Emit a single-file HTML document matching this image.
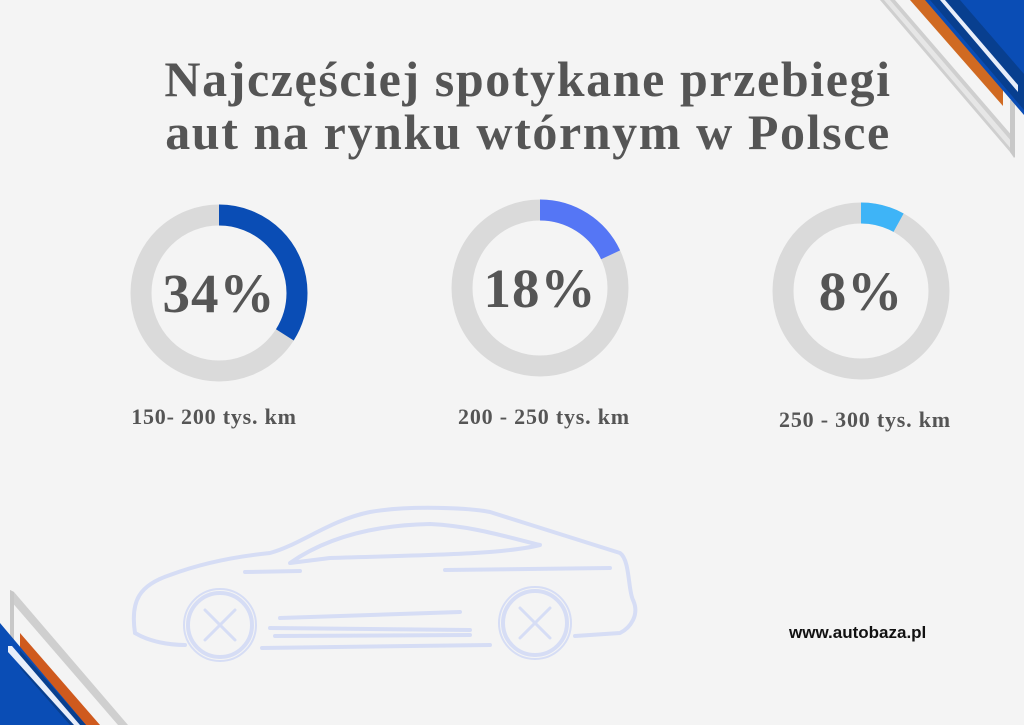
<!DOCTYPE html>
<html><head><meta charset="utf-8"><style>
html,body{margin:0;padding:0;}
body{width:1024px;height:725px;background:#f4f4f4;position:relative;overflow:hidden;font-family:"Liberation Serif",serif;}
.t{position:absolute;left:0;width:1056px;text-align:center;color:#555;font-weight:bold;font-size:50px;letter-spacing:1.6px;}
.lab{position:absolute;color:#555;font-weight:bold;font-size:22px;letter-spacing:0.8px;text-align:center;width:260px;}
.pct{position:absolute;color:#555;font-weight:bold;font-size:55px;letter-spacing:1px;text-align:center;width:200px;}
.url{position:absolute;left:789px;top:623px;font-family:"Liberation Sans",sans-serif;font-weight:bold;font-size:17px;color:#111;}
</style></head><body>
<svg width="1024" height="725" style="position:absolute;left:0;top:0">
<polygon points="880,0 895,0 1014,138 1014,158 1010,152" fill="#cfcfcf"/>
<polygon points="884,0 890,0 1012,142 1012,150" fill="#e6e6e6"/>
<polygon points="1010,100 1015,100 1015,158 1010,152" fill="#c8c8c8"/>
<polygon points="910,0 930,0 1003,84 1003,106" fill="#d06a22"/>
<polygon points="925,0 1024,0 1024,115" fill="#0a4db5"/>
<polygon points="930,0 960,0 1024,74 1024,110" fill="#083f8f"/>
<polygon points="940,0 945,0 1018,85 1018,92" fill="#e8eefa"/>
<polygon points="10,590 14,592 128,725 118,725 10,600" fill="#cfcfcf"/>
<polygon points="10,590 14,592 14,662 10,660" fill="#c8c8c8"/>
<polygon points="20,633 100,725 80,725 20,655" fill="#cf5a1e"/>
<polygon points="0,623 86,725 0,725" fill="#0a4db5"/>
<polygon points="20,650 86,725 70,725 20,668" fill="#083f8f"/>
<polygon points="8,646 12,646 80,725 74,725 8,652" fill="#e8eefa"/>
<g fill="none" stroke-width="21">
<circle cx="219" cy="293" r="78" stroke="#dadada"/>
<circle cx="219" cy="293" r="78" stroke="#0a4db5" stroke-dasharray="166.6 1000" transform="rotate(-90 219 293)"/>
<circle cx="540" cy="288" r="78" stroke="#dadada"/>
<circle cx="540" cy="288" r="78" stroke="#5576f5" stroke-dasharray="88.2 1000" transform="rotate(-90 540 288)"/>
<circle cx="861" cy="291" r="78" stroke="#dadada"/>
<circle cx="861" cy="291" r="78" stroke="#3eb4f7" stroke-dasharray="39.2 1000" transform="rotate(-90 861 291)"/>
</g>
<g fill="none" stroke="#d6ddf5" stroke-width="4" stroke-linecap="round" stroke-linejoin="round">
<path d="M135,633 C130,600 140,585 170,575 C210,560 250,555 270,553 C300,545 330,520 370,512 C410,505 470,508 490,512 C530,525 580,540 620,553 C630,560 628,590 633,600 C640,615 630,628 620,633 L575,636"/>
<path d="M135,633 C150,642 170,645 185,645"/>
<path d="M262,648 L490,645"/>
<path d="M290,563 C330,535 380,525 430,524 C470,526 500,535 540,545 C500,555 420,555 330,558 Z"/>
<path d="M245,572 L300,571 M445,570 L610,568 M280,618 L460,612 M270,628 L470,630 M275,636 L470,635"/>
<circle cx="220" cy="625" r="32"/><circle cx="220" cy="625" r="36" stroke-width="2"/>
<circle cx="535" cy="623" r="32"/><circle cx="535" cy="623" r="36" stroke-width="2"/>
<path d="M205,610 L235,640 M235,610 L205,640 M520,608 L550,638 M550,608 L520,638" stroke-width="3"/>
</g>
</svg>
<div class="t" style="top:50px;">Najczęściej spotykane przebiegi</div>
<div class="t" style="top:103px;">aut na rynku wtórnym w Polsce</div>
<div class="pct" style="left:119px;top:262px;">34%</div>
<div class="pct" style="left:440px;top:257px;">18%</div>
<div class="pct" style="left:761px;top:260px;">8%</div>
<div class="lab" style="left:84px;top:404px;">150- 200 tys. km</div>
<div class="lab" style="left:414px;top:404px;">200 - 250 tys. km</div>
<div class="lab" style="left:735px;top:407px;">250 - 300 tys. km</div>
<div class="url">www.autobaza.pl</div>
</body></html>
